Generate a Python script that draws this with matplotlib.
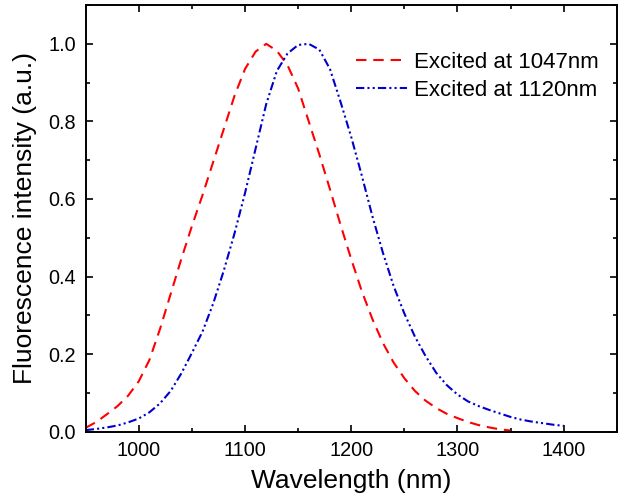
import numpy as np
import matplotlib
matplotlib.use("Agg")
import matplotlib.pyplot as plt
from matplotlib.ticker import MultipleLocator

plt.rcParams['font.family'] = ['Liberation Sans', 'DejaVu Sans']

# excited at 1047 nm
wl_red = [950, 960, 970, 980, 990, 1000, 1010, 1020, 1030, 1040, 1050, 1060,
          1070, 1080, 1090, 1100, 1110, 1120, 1130, 1140, 1150, 1160, 1170,
          1180, 1190, 1200, 1210, 1220, 1230, 1240, 1250, 1260, 1270, 1280,
          1290, 1300, 1310, 1320, 1330, 1340, 1350]
int_red = [0.010, 0.025, 0.045, 0.066, 0.093, 0.130, 0.185, 0.265, 0.355,
           0.445, 0.530, 0.610, 0.695, 0.780, 0.865, 0.935, 0.980, 1.000,
           0.982, 0.945, 0.885, 0.800, 0.715, 0.625, 0.533, 0.445, 0.362,
           0.290, 0.228, 0.178, 0.138, 0.105, 0.080, 0.061, 0.046, 0.035,
           0.025, 0.017, 0.011, 0.006, 0.003]

# excited at 1120 nm
wl_blue = [950, 960, 970, 980, 990, 1000, 1010, 1020, 1030, 1040, 1050, 1060,
           1070, 1080, 1090, 1100, 1110, 1120, 1130, 1140, 1150, 1160, 1170,
           1180, 1190, 1200, 1210, 1220, 1230, 1240, 1250, 1260, 1270, 1280,
           1290, 1300, 1310, 1320, 1330, 1340, 1350, 1360, 1370, 1380, 1390,
           1400]
int_blue = [0.004, 0.007, 0.011, 0.016, 0.024, 0.034, 0.050, 0.073, 0.105,
            0.150, 0.203, 0.258, 0.330, 0.415, 0.510, 0.615, 0.730, 0.845,
            0.930, 0.975, 0.997, 1.000, 0.985, 0.935, 0.850, 0.760, 0.660,
            0.555, 0.460, 0.375, 0.305, 0.245, 0.195, 0.152, 0.120, 0.096,
            0.078, 0.066, 0.056, 0.047, 0.038, 0.031, 0.026, 0.022, 0.018,
            0.015]

fig = plt.figure(figsize=(6.32, 5.04), dpi=100)
ax = fig.add_axes([0.1356, 0.1435, 0.8402, 0.8465])

ax.plot(wl_red, int_red, color='#ff0000', lw=1.5, dashes=(5, 3.3),
        label='Excited at 1047nm')
ax.plot(wl_blue, int_blue, color='#0000cc', lw=1.5,
        dashes=(4, 1.5, 1, 1.5, 1, 1.5), label='Excited at 1120nm')

ax.set_xlim(950, 1450)
ax.set_ylim(0, 1.1)
ax.xaxis.set_major_locator(MultipleLocator(100))
ax.xaxis.set_minor_locator(MultipleLocator(50))
ax.yaxis.set_major_locator(MultipleLocator(0.2))
ax.yaxis.set_minor_locator(MultipleLocator(0.1))
ax.set_xticks([1000, 1100, 1200, 1300, 1400])
ax.set_yticks([0.0, 0.2, 0.4, 0.6, 0.8, 1.0])
ax.yaxis.set_major_formatter(plt.FormatStrFormatter('%.1f'))

ax.tick_params(which='both', direction='in', top=True, right=True,
               labelsize=14.3, width=1.2)
ax.tick_params(which='major', length=5, pad=7)
ax.tick_params(which='minor', length=3)
for s in ax.spines.values():
    s.set_linewidth(1.4)

ax.set_xlabel('Wavelength (nm)', fontsize=19, labelpad=6)
ax.set_ylabel('Fluorescence intensity (a.u.)', fontsize=19, labelpad=8)

ax.legend(loc='upper left', bbox_to_anchor=(356 / 632, 1 - 52 / 504),
          bbox_transform=fig.transFigure, frameon=False, fontsize=16,
          borderpad=0, borderaxespad=0, handlelength=2.3,
          handletextpad=0.3, labelspacing=0.3)

fig.savefig('out.png', dpi=100)
